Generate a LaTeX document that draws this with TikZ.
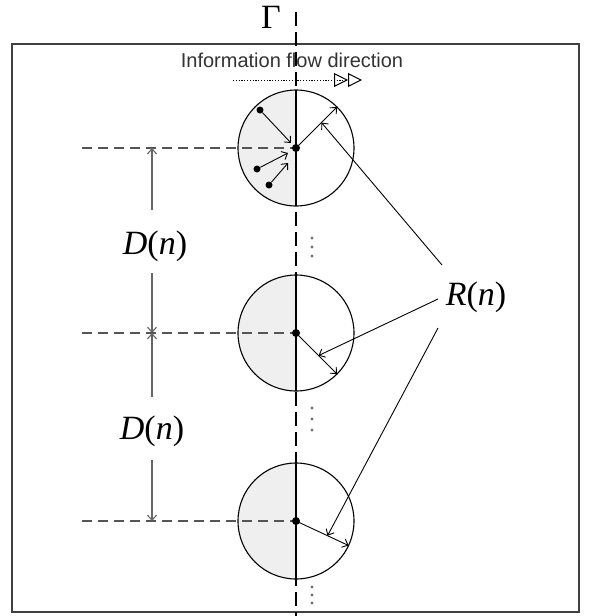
\documentclass[tikz,border=0pt]{standalone}
\usepackage{fontspec}
\setmainfont{Liberation Serif}
\setsansfont{Liberation Sans}
\usetikzlibrary{arrows.meta,calc}
\definecolor{halfgray}{HTML}{EFEFEF}
\definecolor{dimgray}{HTML}{666666}
\definecolor{dashgray}{HTML}{555555}
\definecolor{framegray}{HTML}{404040}
\definecolor{textgray}{HTML}{333333}
\definecolor{vdotgray}{HTML}{707070}
\begin{document}
\begin{tikzpicture}[x=1pt,y=1pt,
  ball/.style={circle, draw=black, line width=1.1pt, minimum size=116pt, inner sep=0pt, outer sep=0pt,
    path picture={\fill[halfgray] (path picture bounding box.north west) rectangle (path picture bounding box.south);}},
  dimline/.style={draw=dimgray, line width=1.1pt},
  arr/.style={-{Straight Barb[length=5pt,width=9pt]}},
  thinarr/.style={draw=black, line width=0.9pt, arr},
  hdash/.style={draw=dashgray, line width=1.4pt, dash pattern=on 10pt off 6pt},
  axisline/.style={draw=black, line width=1.3pt, dash pattern=on 14pt off 6pt},
  dotnode/.style={circle, fill=black, inner sep=0pt, minimum size=7pt},
  cdot/.style={circle, fill=black, inner sep=0pt, minimum size=8pt},
  lab/.style={font=\fontsize{34}{40}\selectfont, inner sep=0pt, text=black},
  smalldot/.style={circle, fill=vdotgray, inner sep=0pt, minimum size=3.2pt},
  flowarr/.style={draw=black, line width=0.9pt, dash pattern=on 1.2pt off 1.6pt,
    -{Triangle[open,length=14pt,width=14pt,line width=1pt] Triangle[open,length=14pt,width=14pt,line width=1pt]}}
]
\useasboundingbox (0,0) rectangle (590,-616);
\fill[white] (0,0) rectangle (590,-616);

% frame
\draw[draw=framegray, line width=1.8pt] (12,-44) rectangle (579,-612);

% circles
\node[ball] (c1) at (296,-148) {};
\node[ball] (c2) at (296,-333) {};
\node[ball] (c3) at (296,-521) {};

% axis Gamma
\coordinate (atop) at (296,-12);
\coordinate (abot) at (296,-616);
\draw[axisline] (atop) -- (abot);
\draw[line width=1.3pt] (c1.north) -- (c1.south);
\draw[line width=1.3pt] (c2.north) -- (c2.south);
\draw[line width=1.3pt] (c3.north) -- (c3.south);
\node[font=\fontsize{34}{40}\selectfont, inner sep=0pt] (G) at (271,-17) {Γ};

% horizontal dashed lines
\coordinate (h1) at (82,-148);
\coordinate (h2) at (82,-333);
\coordinate (h3) at (82,-521);
\draw[hdash] (h1) -- (c1.center);
\draw[hdash] (h2) -- (c2.center);
\draw[hdash] (h3) -- (c3.center);

% dimension lines
\coordinate (d1) at (152,-148);
\coordinate (d2) at (152,-333);
\coordinate (d3) at (152,-521);
\coordinate (u1) at (152,-210);
\coordinate (u2) at (152,-273);
\coordinate (u3) at (152,-397);
\coordinate (u4) at (152,-460);
\draw[dimline, arr] (u1) -- (d1);
\draw[dimline, arr] (u2) -- (d2);
\draw[dimline, arr] (u3) -- (d2);
\draw[dimline, arr] (u4) -- (d3);
\node[lab] (D1) at (155,-246) {\textit{D}(\textit{n})};
\node[lab] (D2) at (152,-431) {\textit{D}(\textit{n})};

% information flow
\node[font=\sffamily\fontsize{20}{24}\selectfont, text=textgray, inner sep=0pt] (info) at (292,-60) {Information flow direction};
\coordinate (fs) at (233,-80);
\coordinate (fe) at (362,-80);
\draw[flowarr] (fs) -- (fe);

% points inside top circle
\node[dotnode] (p1) at (260,-110) {};
\node[dotnode] (p2) at (257,-169) {};
\node[dotnode] (p3) at (269,-185) {};
\coordinate (t1) at (291,-143);
\coordinate (t2) at (288,-153);
\coordinate (t3) at (288,-163);
\draw[thinarr] (p1) -- (t1);
\draw[thinarr] (p2) -- (t2);
\draw[thinarr] (p3) -- (t3);

% radius arrows
\draw[thinarr] (c1.center) -- (c1.45);
\draw[thinarr] (c2.center) -- (c2.-45);
\draw[thinarr] (c3.center) -- (c3.-25);

% centre dots
\node[cdot] (o1) at (c1.center) {};
\node[cdot] (o2) at (c2.center) {};
\node[cdot] (o3) at (c3.center) {};

% R(n) label and pointers
\node[lab] (R) at (476,-297) {\textit{R}(\textit{n})};
\coordinate (r1) at (442,-265);
\coordinate (r2) at (438,-299);
\coordinate (r3) at (438,-328);
\coordinate (q1) at ($(c1.center)!0.62!(c1.45)$);
\coordinate (q2) at ($(c2.center)!0.55!(c2.-45)$);
\coordinate (q3) at ($(c3.center)!0.6!(c3.-25)$);
\draw[thinarr] (r1) -- (q1);
\draw[thinarr] (r2) -- (q2);
\draw[thinarr] (r3) -- (q3);

% vertical ellipsis dots
\foreach \yy [count=\i] in {238,247,256, 408,419,430, 587,595,603} {
  \node[smalldot] (vd\i) at (312,-\yy) {};
}
\end{tikzpicture}
\end{document}
